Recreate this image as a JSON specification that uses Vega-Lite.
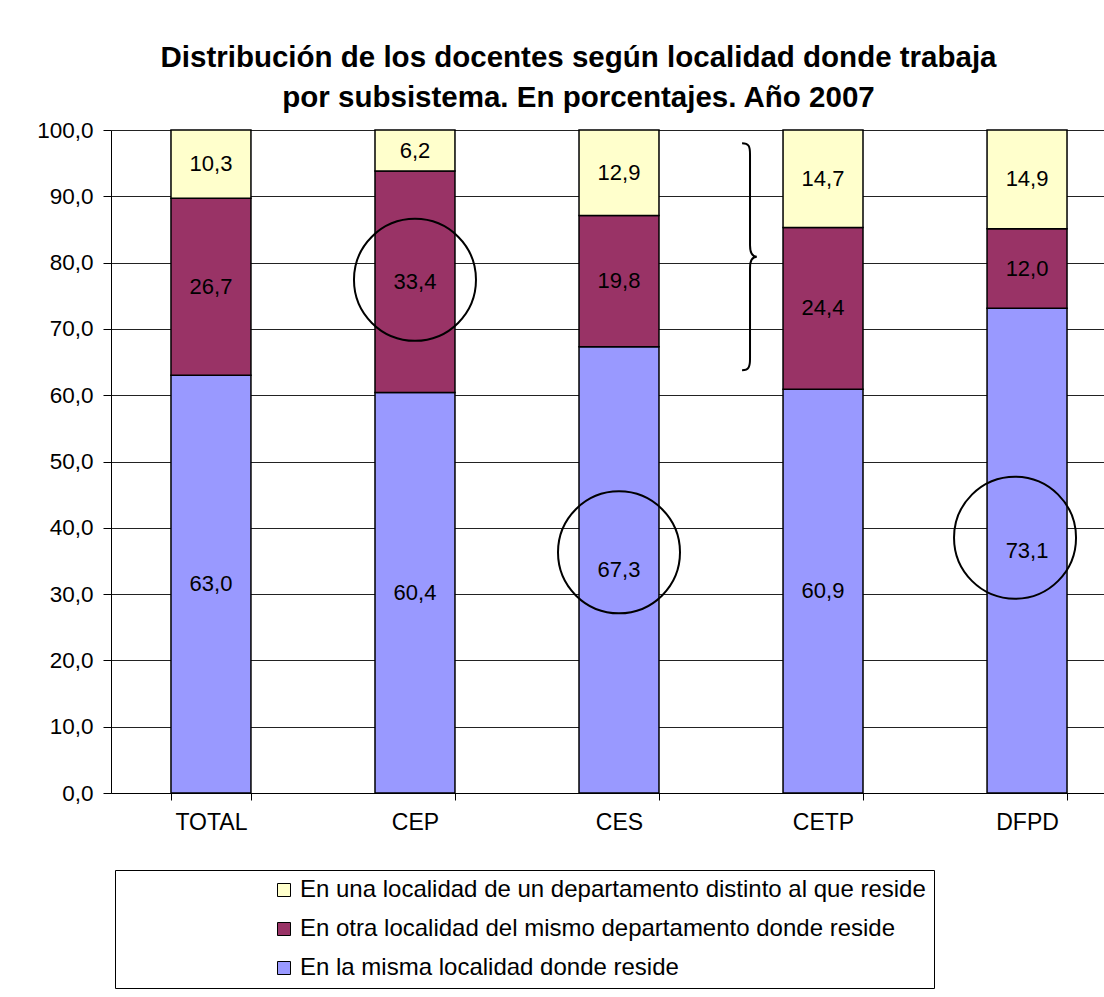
{
  "$schema": "https://vega.github.io/schema/vega-lite/v6.json",
  "width": 993,
  "height": 663,
  "autosize": {"type": "none"},
  "padding": {"left": 111, "top": 130, "right": 0, "bottom": 204},
  "background": "white",
  "title": {
    "text": ["Distribución de los docentes según localidad donde trabaja", "por subsistema. En porcentajes. Año 2007"],
    "anchor": "middle",
    "frame": "group",
    "dx": -29,
    "offset": 6,
    "fontSize": 29.5,
    "fontWeight": "bold",
    "font": "Liberation Sans",
    "color": "black",
    "lineHeight": 40
  },
  "datasets": {
    "main": [
      {"sub": "TOTAL", "cat": "En la misma localidad donde reside", "v": 63.0},
      {"sub": "TOTAL", "cat": "En otra localidad del mismo departamento donde reside", "v": 26.7},
      {"sub": "TOTAL", "cat": "En una localidad de un departamento distinto al que reside", "v": 10.3},
      {"sub": "CEP", "cat": "En la misma localidad donde reside", "v": 60.4},
      {"sub": "CEP", "cat": "En otra localidad del mismo departamento donde reside", "v": 33.4},
      {"sub": "CEP", "cat": "En una localidad de un departamento distinto al que reside", "v": 6.2},
      {"sub": "CES", "cat": "En la misma localidad donde reside", "v": 67.3},
      {"sub": "CES", "cat": "En otra localidad del mismo departamento donde reside", "v": 19.8},
      {"sub": "CES", "cat": "En una localidad de un departamento distinto al que reside", "v": 12.9},
      {"sub": "CETP", "cat": "En la misma localidad donde reside", "v": 60.9},
      {"sub": "CETP", "cat": "En otra localidad del mismo departamento donde reside", "v": 24.4},
      {"sub": "CETP", "cat": "En una localidad de un departamento distinto al que reside", "v": 14.7},
      {"sub": "DFPD", "cat": "En la misma localidad donde reside", "v": 73.1},
      {"sub": "DFPD", "cat": "En otra localidad del mismo departamento donde reside", "v": 12.0},
      {"sub": "DFPD", "cat": "En una localidad de un departamento distinto al que reside", "v": 14.9}
    ],
    "circles": [
      {"sub": "CEP", "v": 77.4},
      {"sub": "CES", "v": 36.3}
    ],
    "circles2": [
      {"sub": "DFPD", "v": 38.5}
    ],
    "brace": [
      {"sub": "CETP", "v": 80.9}
    ]
  },
  "layer": [
    {
      "data": {"name": "main"},
      "transform": [
        {"stack": "v", "groupby": ["sub"], "sort": [{"field": "cat", "order": "ascending"}], "as": ["v0", "v1"]}
      ],
      "mark": {"type": "bar", "stroke": "black", "strokeWidth": 1.5},
      "encoding": {
        "x": {
          "field": "sub", "type": "nominal", "sort": ["TOTAL", "CEP", "CES", "CETP", "DFPD"],
          "scale": {"range": [0, 1016], "paddingInner": 0.608, "paddingOuter": 0.294},
          "axis": {
            "title": null, "labelAngle": 0, "tickBand": "extent", "labelFontSize": 23,
            "labelFont": "Liberation Sans", "labelColor": "black", "domainColor": "black",
            "tickColor": "black", "tickSize": 7, "labelPadding": 11, "grid": false
          }
        },
        "y": {
          "field": "v0", "type": "quantitative",
          "scale": {"domain": [0, 100], "nice": false},
          "axis": {
            "title": null, "format": ".1f", "values": [0, 10, 20, 30, 40, 50, 60, 70, 80, 90, 100],
            "labelOverlap": false,
            "labelFontSize": 22.5, "labelFont": "Liberation Sans", "labelColor": "black",
            "domainColor": "black", "tickColor": "black", "tickSize": 8, "labelPadding": 10,
            "grid": true, "gridColor": "#222222", "gridWidth": 1, "gridOpacity": 1
          }
        },
        "y2": {"field": "v1"},
        "color": {
          "field": "cat", "type": "nominal",
          "scale": {
            "domain": ["En una localidad de un departamento distinto al que reside", "En otra localidad del mismo departamento donde reside", "En la misma localidad donde reside"],
            "range": ["#FFFFCC", "#993366", "#9999FF"]
          },
          "legend": {
            "title": null, "orient": "none", "legendX": 4, "legendY": 740,
            "fillColor": "white", "strokeColor": "black", "padding": 8,
            "symbolType": "square", "symbolSize": 169, "symbolStrokeColor": "black", "symbolStrokeWidth": 1,
            "labelFontSize": 24, "labelFont": "Liberation Sans", "labelColor": "black",
            "rowPadding": 15, "symbolOffset": 149, "labelLimit": 1000
          }
        }
      }
    },
    {
      "data": {"name": "main"},
      "transform": [
        {"stack": "v", "groupby": ["sub"], "sort": [{"field": "cat", "order": "ascending"}], "as": ["v0", "v1"]},
        {"calculate": "(datum.v0 + datum.v1) / 2", "as": "mid"}
      ],
      "mark": {"type": "text", "fontSize": 22, "font": "Liberation Sans", "color": "black", "baseline": "middle"},
      "encoding": {
        "x": {"field": "sub", "type": "nominal", "sort": ["TOTAL", "CEP", "CES", "CETP", "DFPD"]},
        "y": {"field": "mid", "type": "quantitative"},
        "text": {"field": "v", "type": "quantitative", "format": ".1f"}
      }
    },
    {
      "data": {"name": "circles"},
      "mark": {"type": "point", "shape": "circle", "filled": false, "stroke": "black", "strokeWidth": 2, "size": 14884, "opacity": 1},
      "encoding": {
        "x": {"field": "sub", "type": "nominal", "sort": ["TOTAL", "CEP", "CES", "CETP", "DFPD"]},
        "y": {"field": "v", "type": "quantitative"}
      }
    },
    {
      "data": {"name": "circles2"},
      "mark": {"type": "point", "shape": "circle", "filled": false, "stroke": "black", "strokeWidth": 2, "size": 14884, "opacity": 1, "xOffset": -12},
      "encoding": {
        "x": {"field": "sub", "type": "nominal", "sort": ["TOTAL", "CEP", "CES", "CETP", "DFPD"]},
        "y": {"field": "v", "type": "quantitative"}
      }
    },
    {
      "data": {"name": "brace"},
      "mark": {
        "type": "point",
        "shape": "M -0.07 -1 C -0.01 -1 0 -0.97 0 -0.9 L 0 -0.1 C 0 -0.03 0.02 0 0.06 0 C 0.02 0 0 0.03 0 0.1 L 0 0.9 C 0 0.97 -0.01 1 -0.07 1",
        "filled": false, "stroke": "black", "strokeWidth": 2, "size": 51529, "opacity": 1, "xOffset": -73
      },
      "encoding": {
        "x": {"field": "sub", "type": "nominal", "sort": ["TOTAL", "CEP", "CES", "CETP", "DFPD"]},
        "y": {"field": "v", "type": "quantitative"}
      }
    }
  ],
  "config": {
    "view": {"stroke": null},
    "locale": {
      "number": {"decimal": ",", "thousands": ".", "grouping": [3], "currency": ["", ""]}
    }
  }
}
